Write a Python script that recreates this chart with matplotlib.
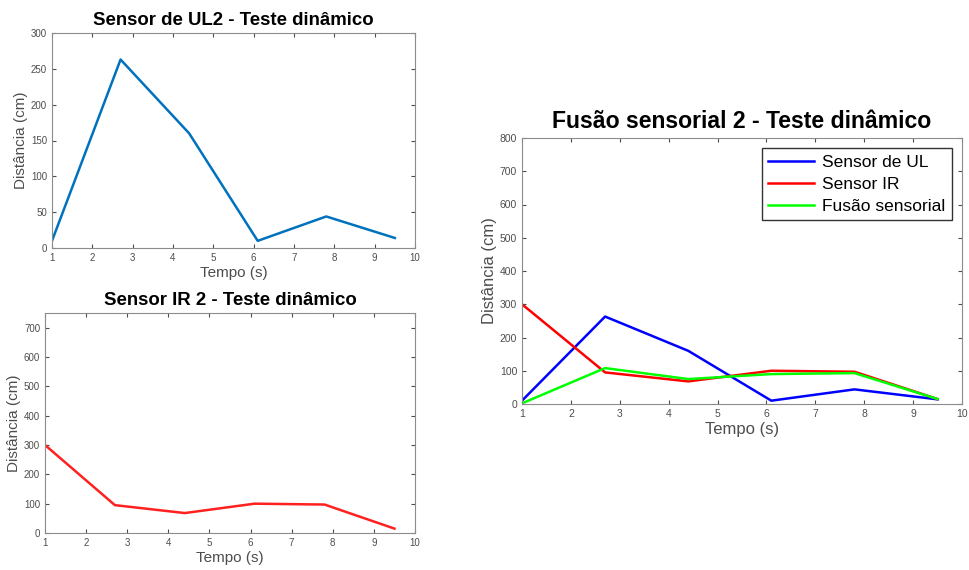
import matplotlib
matplotlib.use("Agg")
import matplotlib.pyplot as plt

plt.rcParams['font.family'] = ['Liberation Sans', 'DejaVu Sans']

# dados
tempo = [1, 2.7, 4.4, 6.1, 7.8, 9.5]
dist_ul = [10, 263, 160, 10, 44, 14]
dist_ir = [300, 95, 68, 100, 97, 15]
dist_fusao = [2, 108, 75, 90, 93, 15]

xticks = list(range(1, 11))
cinza = '#4d4d4d'


def estilo(ax, ylim, yticks, tick_size=7, label_size=11):
    ax.set_xlim(1, 10)
    ax.set_ylim(*ylim)
    ax.set_xticks(xticks)
    ax.set_yticks(yticks)
    ax.tick_params(direction='in', top=True, right=True, length=3,
                   labelsize=tick_size, colors=cinza, labelcolor=cinza)
    for s in ax.spines.values():
        s.set_color('#8c8c8c')
        s.set_linewidth(0.8)
    ax.set_xlabel('Tempo (s)', fontsize=label_size, color=cinza, labelpad=2)
    ax.set_ylabel('Distância (cm)', fontsize=label_size, color=cinza, labelpad=2)


fig = plt.figure(figsize=(9.7, 5.7), dpi=100)

# Sensor UL
ax1 = fig.add_axes([52/970, 1-248/570, 363/970, 215/570])
ax1.plot(tempo, dist_ul, color='#0072BD', lw=1.8)
estilo(ax1, (0, 300), range(0, 301, 50))
ax1.set_title('Sensor de UL2 - Teste dinâmico', fontsize=13.4, fontweight='bold', pad=6)

# Sensor IR
ax2 = fig.add_axes([45/970, 1-533/570, 370/970, 220/570])
ax2.plot(tempo, dist_ir, color='#ff2020', lw=1.8)
estilo(ax2, (0, 750), range(0, 701, 100))
ax2.set_title('Sensor IR 2 - Teste dinâmico', fontsize=13.4, fontweight='bold', pad=6)

# Fusao sensorial
ax3 = fig.add_axes([522/970, 1-404/570, 440/970, 266/570])
ax3.plot(tempo, dist_ul, color='#0000ff', lw=1.8, label='Sensor de UL')
ax3.plot(tempo, dist_ir, color='#ff0000', lw=1.8, label='Sensor IR')
ax3.plot(tempo, dist_fusao, color='#00ff00', lw=1.8, label='Fusão sensorial')
estilo(ax3, (0, 800), range(0, 801, 100), tick_size=7.5, label_size=12)
ax3.set_title('Fusão sensorial 2 - Teste dinâmico', fontsize=16.6, fontweight='bold', pad=7)
leg = ax3.legend(loc='upper right', fontsize=12.5, fancybox=False, framealpha=1,
                 handlelength=2.6, handletextpad=0.5, borderpad=0.35,
                 labelspacing=0.4, borderaxespad=0.6)
leg.get_frame().set_edgecolor('#333333')

fig.savefig('out.png', dpi=100)
